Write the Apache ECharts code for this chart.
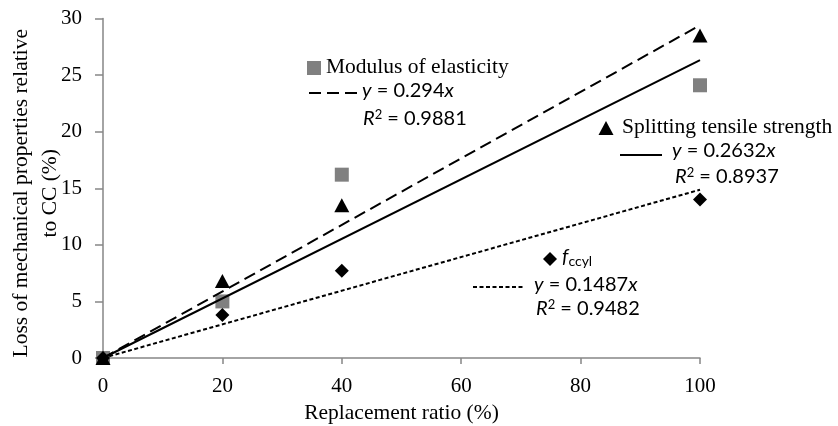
<!DOCTYPE html>
<html>
<head>
<meta charset="utf-8">
<script src="https://cdn.jsdelivr.net/npm/echarts@6/dist/echarts.min.js"></script>
<style>
  html, body { margin: 0; padding: 0; background: #fff; }
  #chart { width: 838px; height: 426px; }
</style>
</head>
<body>
<div id="chart"></div>
<script>
// Replacement ratio (%) on the x axis
const replacementRatio = [0, 20, 40, 100];
// Loss of each mechanical property relative to CC (%)
const modulusLoss = [0, 5.0, 16.2, 24.1];
const splittingLoss = [0, 6.8, 13.5, 28.5];
const fccylLoss = [0, 3.8, 7.7, 14.0];
// Slopes of the zero-intercept linear trendlines
const slopeDashed = 0.294;
const slopeSolid = 0.2632;
const slopeDotted = 0.1487;
const r2Dashed = 0.9881;
const r2Solid = 0.8937;
const r2Dotted = 0.9482;
// Axis ticks
const xTicks = { min: 0, max: 100, step: 20 };
const yTicks = { min: 0, max: 30, step: 5 };

const SERIF = '"Liberation Serif", "Times New Roman", serif';
const SANS = 'Lato, "Open Sans", sans-serif';
const AXIS_GRAY = '#868686';

const pairs = (xs, ys) => xs.map((x, i) => [x, ys[i]]);
const trend = (k) => [[xTicks.min, 0], [xTicks.max, k * xTicks.max]];

const chart = echarts.init(document.getElementById('chart'), null, { renderer: 'canvas' });

const eqRich = {
  i: { fontFamily: SANS, fontSize: 20, fontStyle: 'italic', color: '#000' },
  n: { fontFamily: SANS, fontSize: 20, color: '#000' },
  sup: { fontFamily: SANS, fontSize: 13, color: '#000', verticalAlign: 'top', padding: [0, 0, 8, 0] },
  sub: { fontFamily: SANS, fontSize: 14, color: '#000', padding: [8, 0, 0, 0] }
};
function eqText(x, y, text) {
  return {
    type: 'text', left: x, top: y - 12, z: 10,
    style: { text: text, rich: eqRich, fontFamily: SANS, fontSize: 20, fill: '#000' }
  };
}
function serifText(x, y, text) {
  return {
    type: 'text', left: x, top: y - 12, z: 10,
    style: { text: text, fontFamily: SERIF, fontSize: 21.5, fill: '#000' }
  };
}
function legendLine(x1, x2, y, dash) {
  return {
    type: 'line', z: 10,
    shape: { x1: x1, y1: y, x2: x2, y2: y },
    style: { stroke: '#000', lineWidth: 2, lineDash: dash }
  };
}

const option = {
  backgroundColor: '#fff',
  animation: false,
  grid: { left: 103, right: 138, top: 18.5, bottom: 68, containLabel: false, outerBoundsMode: 'none' },
  xAxis: {
    type: 'value', min: xTicks.min, max: xTicks.max, interval: xTicks.step,
    name: 'Replacement ratio (%)', nameLocation: 'middle', nameGap: 44, nameMoveOverlap: false,
    nameTextStyle: { fontFamily: SERIF, fontSize: 21.5, color: '#000' },
    axisLine: { show: true, lineStyle: { color: AXIS_GRAY, width: 1.5 } },
    axisTick: { show: true, inside: false, length: 6, lineStyle: { color: AXIS_GRAY, width: 1.5 } },
    axisLabel: { fontFamily: SERIF, fontSize: 21, color: '#000', margin: 18 },
    splitLine: { show: false }
  },
  yAxis: {
    type: 'value', min: yTicks.min, max: yTicks.max, interval: yTicks.step,
    name: 'Loss of mechanical properties relative\nto CC (%)',
    nameLocation: 'middle', nameGap: 38, nameMoveOverlap: false,
    nameTextStyle: { fontFamily: SERIF, fontSize: 21.5, lineHeight: 29, color: '#000', padding: [0, 10, 0, 0] },
    axisLine: { show: true, lineStyle: { color: AXIS_GRAY, width: 1.5 } },
    axisTick: { show: true, inside: false, length: 8, lineStyle: { color: AXIS_GRAY, width: 1.5 } },
    axisLabel: { fontFamily: SERIF, fontSize: 21, color: '#000', margin: 21 },
    splitLine: { show: false }
  },
  series: [
    {
      name: 'Modulus of elasticity', type: 'scatter', symbol: 'rect', symbolSize: 14,
      itemStyle: { color: '#808080', opacity: 1 }, data: pairs(replacementRatio, modulusLoss), z: 2
    },
    {
      name: 'Splitting tensile strength', type: 'scatter', symbol: 'triangle', symbolSize: [15, 14],
      itemStyle: { color: '#000', opacity: 1 }, data: pairs(replacementRatio, splittingLoss), z: 3
    },
    {
      name: 'fccyl', type: 'scatter', symbol: 'diamond', symbolSize: 14,
      itemStyle: { color: '#000', opacity: 1 }, data: pairs(replacementRatio, fccylLoss), z: 3
    },
    {
      type: 'line', showSymbol: false, silent: true, z: 4, data: trend(slopeDashed),
      lineStyle: { color: '#000', width: 2, type: [12, 6] }
    },
    {
      type: 'line', showSymbol: false, silent: true, z: 4, data: trend(slopeSolid),
      lineStyle: { color: '#000', width: 2, type: 'solid' }
    },
    {
      type: 'line', showSymbol: false, silent: true, z: 4, data: trend(slopeDotted),
      lineStyle: { color: '#000', width: 2, type: [4, 2.5] }
    }
  ],
  graphic: [
    // Modulus of elasticity key
    { type: 'rect', z: 10, shape: { x: 307, y: 61, width: 14, height: 14 }, style: { fill: '#808080' } },
    serifText(326, 68, 'Modulus of elasticity'),
    legendLine(309, 357, 93, [12, 6]),
    eqText(362, 93, '{i|y}{n| = ' + slopeDashed + '}{i|x}'),
    eqText(363, 120, '{i|R}{sup|2}{n| = ' + r2Dashed + '}'),
    // Splitting tensile strength key
    { type: 'polygon', z: 10, shape: { points: [[606, 121], [613.5, 135], [598.5, 135]] }, style: { fill: '#000' } },
    serifText(622, 128, 'Splitting tensile strength'),
    legendLine(620, 662, 155, null),
    eqText(672, 153, '{i|y}{n| = ' + slopeSolid + '}{i|x}'),
    eqText(675, 178, '{i|R}{sup|2}{n| = ' + r2Solid + '}'),
    // f_ccyl key
    { type: 'polygon', z: 10, shape: { points: [[550, 252], [557, 259], [550, 266], [543, 259]] }, style: { fill: '#000' } },
    eqText(562, 259, '{i|f}{sub|ccyl}'),
    legendLine(473, 525, 287, [4, 2.5]),
    eqText(534, 287, '{i|y}{n| = ' + slopeDotted + '}{i|x}'),
    eqText(536, 310, '{i|R}{sup|2}{n| = ' + r2Dotted + '}')
  ]
};

chart.setOption(option);
</script>
</body>
</html>
